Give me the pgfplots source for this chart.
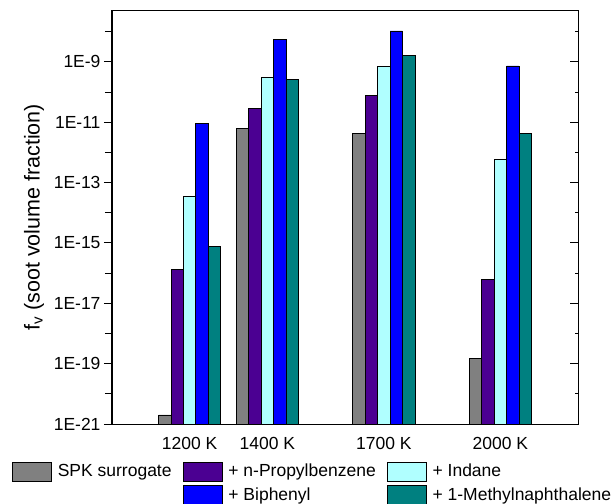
\documentclass[border=0pt]{standalone}
\usepackage{fontspec}
\setmainfont{Liberation Sans}
\usepackage{pgfplots}
\pgfplotsset{compat=1.18}
\definecolor{spk}{HTML}{808080}
\definecolor{npb}{HTML}{4B0092}
\definecolor{ind}{HTML}{B0FFFF}
\definecolor{bip}{HTML}{0000FF}
\definecolor{mn}{HTML}{008080}
\begin{document}
\begin{tikzpicture}[font=\fontsize{17.5bp}{20bp}\selectfont]
\path[use as bounding box] (-112bp,-80bp) rectangle (501bp,424bp);
\begin{axis}[
  scale only axis, width=466bp, height=413.3bp,
  xmin=1000, xmax=2200,
  ymode=log, ymin=1e-21, ymax=5e-8, log origin y=infty,
  ytick={1e-21,1e-19,1e-17,1e-15,1e-13,1e-11,1e-9},
  yticklabels={1E-21,1E-19,1E-17,1E-15,1E-13,1E-11,1E-9},
  minor ytick={1e-20,1e-18,1e-16,1e-14,1e-12,1e-10,1e-8},
  ytick pos=left, tick align=outside,
  major tick length=8bp, minor tick length=7bp,
  every tick/.style={black, line width=1bp},
  xtick={1200,1400,1700,2000},
  xticklabels={1200 K,1400 K,1700 K,2000 K},
  xtick pos=bottom,
  x tick style={draw=none},
  xticklabel style={yshift=-2bp},
  axis line style={line width=1bp},
  ylabel={f\textsubscript{v} (soot volume fraction)},
  every axis y label/.style={at={(axis description cs:0,0.5)}, xshift=-78bp, rotate=90, anchor=center, font=\fontsize{21.5bp}{24bp}\selectfont},
  ybar, bar width=32,
  legend columns=3,
  legend cell align=left,
  legend style={at={(axis description cs:0,0)}, anchor=north west, xshift=-100bp, yshift=-37.5bp,
    draw=none, fill=none, inner sep=0pt, outer sep=0pt, row sep=3.7bp,
    /tikz/every odd column/.style={column sep=6bp},
    /tikz/every even column/.style={column sep=11bp},
    nodes={inner sep=0pt, anchor=base west}},
  legend image code/.code={\draw[#1, line width=0.8bp] (0bp,-4bp) rectangle (39bp,15bp);},
]
\addplot[fill=spk, draw=black, line width=0.8bp, bar shift=-64] coordinates {(1200,2e-21) (1400,6.2e-12) (1700,4.4e-12) (2000,1.45e-19)};
\addlegendentry{SPK surrogate}
\addplot[fill=npb, draw=black, line width=0.8bp, bar shift=-32] coordinates {(1200,1.3e-16) (1400,2.9e-11) (1700,7.9e-11) (2000,6.2e-17)};
\addlegendentry{+ n-Propylbenzene}
\addplot[fill=ind, draw=black, line width=0.8bp, bar shift=0] coordinates {(1200,3.6e-14) (1400,3.1e-10) (1700,7.2e-10) (2000,5.9e-13)};
\addlegendentry{+ Indane}
\addlegendimage{empty legend}
\addlegendentry{}
\addplot[fill=bip, draw=black, line width=0.8bp, bar shift=32] coordinates {(1200,9.3e-12) (1400,5.4e-9) (1700,1.07e-8) (2000,7.4e-10)};
\addlegendentry{+ Biphenyl}
\addplot[fill=mn, draw=black, line width=0.8bp, bar shift=64] coordinates {(1200,7.9e-16) (1400,2.6e-10) (1700,1.6e-9) (2000,4.4e-12)};
\addlegendentry{+ 1-Methylnaphthalene}
\end{axis}
\begin{axis}[
  scale only axis, width=466bp, height=413.3bp,
  xmin=1000, xmax=2200,
  ymode=log, ymin=1e-21, ymax=5e-8,
  ytick={1e-21,1e-19,1e-17,1e-15,1e-13,1e-11,1e-9},
  yticklabels={},
  minor ytick={1e-20,1e-18,1e-16,1e-14,1e-12,1e-10,1e-8},
  ytick pos=right, tick align=inside,
  major tick length=8bp, minor tick length=3.5bp,
  every tick/.style={black, line width=1bp},
  xtick=\empty,
  axis line style={line width=1bp},
]
\end{axis}
\end{tikzpicture}
\end{document}
